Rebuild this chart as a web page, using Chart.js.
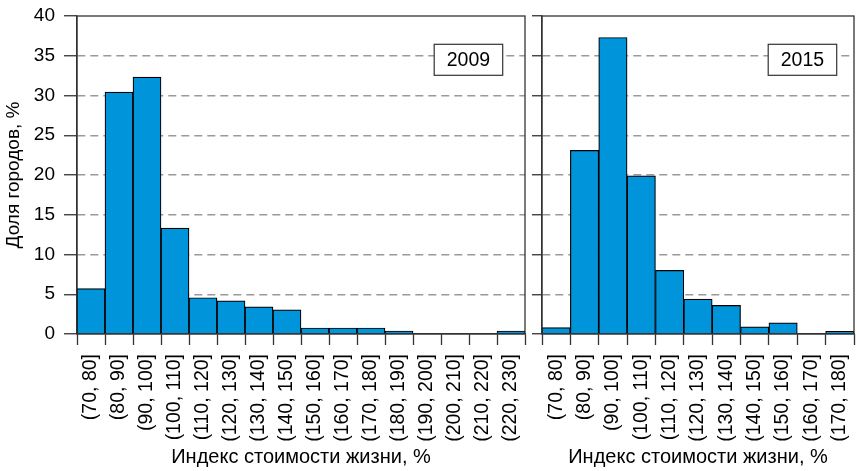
<!DOCTYPE html>
<html><head><meta charset="utf-8">
<script src="https://cdn.jsdelivr.net/npm/chart.js@4/dist/chart.umd.min.js"></script>
<style>
html,body{margin:0;padding:0;background:#fff;}
#wrap{position:relative;width:857px;height:471px;overflow:hidden;background:#fff;}
#c1{position:absolute;left:0;top:0;width:530px;height:471px;}
#c2{position:absolute;left:530px;top:0;width:327px;height:471px;}
</style></head><body>
<div id="wrap"><canvas id="c1" width="530" height="471"></canvas><canvas id="c2" width="327" height="471"></canvas></div>
<script>
const categories2009 = ['(70, 80]','(80, 90]','(90, 100]','(100, 110]','(110, 120]','(120, 130]','(130, 140]','(140, 150]','(150, 160]','(160, 170]','(170, 180]','(180, 190]','(190, 200]','(200, 210]','(210, 220]','(220, 230]'];
const values2009 = [5.70, 30.42, 32.32, 13.31, 4.56, 4.18, 3.42, 3.04, 0.76, 0.76, 0.76, 0.38, 0, 0, 0, 0.38];
const categories2015 = ['(70, 80]','(80, 90]','(90, 100]','(100, 110]','(110, 120]','(120, 130]','(130, 140]','(140, 150]','(150, 160]','(160, 170]','(170, 180]'];
const values2015 = [0.8, 23.1, 37.3, 19.9, 8.0, 4.4, 3.6, 0.9, 1.4, 0, 0.35];
const yMin = 0, yMax = 40, yStep = 5;
const yAxisTitle = 'Доля городов, %';
const xAxisTitle = 'Индекс стоимости жизни, %';
const panelLabels = ['2009', '2015'];

const FONT = "'Liberation Sans', Arial, sans-serif";
const DARK = '#333333';
const BAR = '#0095DA';

const framePlugin = {
  id: 'frame',
  afterDatasetsDraw(chart, args, opts) {
    const {ctx, chartArea: a} = chart;
    ctx.save();
    ctx.strokeStyle = DARK; ctx.lineWidth = 1.3;
    ctx.strokeRect(a.left, a.top, a.right - a.left, a.bottom - a.top);
    const w = opts.boxWidth, h = opts.boxHeight;
    const x = a.right - opts.boxRight - w, y = a.top + opts.boxTop;
    ctx.fillStyle = '#fff'; ctx.fillRect(x, y, w, h);
    ctx.lineWidth = 1.2; ctx.strokeRect(x, y, w, h);
    ctx.fillStyle = '#000'; ctx.font = '19.5px ' + FONT;
    ctx.textAlign = 'center'; ctx.textBaseline = 'middle';
    ctx.fillText(opts.text, x + w / 2, y + h / 2 + 1);
    ctx.restore();
  }
};

function makeChart(id, labels, values, opt) {
  return new Chart(document.getElementById(id), {
    type: 'bar',
    data: { labels: labels, datasets: [{ data: values, backgroundColor: BAR, borderColor: '#000', borderWidth: 1.2, barPercentage: 1, categoryPercentage: 1 }] },
    options: {
      responsive: false, animation: false,
      layout: { padding: { left: 0, right: opt.padRight, top: 16, bottom: 0 } },
      plugins: { legend: { display: false }, tooltip: { enabled: false },
        frame: { text: opt.text, boxWidth: 68.5, boxHeight: 31, boxRight: opt.boxRight, boxTop: 28.3 } },
      scales: {
        x: {
          grid: { drawOnChartArea: false, drawTicks: true, tickLength: 11, tickColor: DARK, tickWidth: 1.3 },
          border: { display: true, color: DARK, width: 1.3 },
          ticks: { autoSkip: false, maxRotation: 90, minRotation: 90, padding: 9, color: '#000', font: { family: FONT, size: 19.5 } },
          title: { display: true, text: xAxisTitle, color: '#000', font: { family: FONT, size: 20 }, padding: { top: 0, bottom: 2 } },
          afterFit(s) { s.height = 137; s.paddingLeft = 0; s.paddingRight = 0; }
        },
        y: {
          min: yMin, max: yMax,
          grid: { color: (c) => (c.tick && (c.tick.value === yMin || c.tick.value === yMax)) ? 'rgba(0,0,0,0)' : '#9a9a9a', lineWidth: 1.5, tickLength: opt.tickLen, tickColor: DARK, tickWidth: 1.3 },
          border: { display: true, color: DARK, width: 1.3, dash: [8, 5] },
          ticks: { display: opt.showY, stepSize: yStep, padding: 9, color: '#000', font: { family: FONT, size: 19 } },
          title: { display: opt.showY, text: yAxisTitle, color: '#000', font: { family: FONT, size: 19 }, padding: { top: 2, bottom: 0 } },
          afterFit(s) { s.width = opt.yWidth; s.paddingTop = 0; s.paddingBottom = 0; }
        }
      }
    },
    plugins: [framePlugin]
  });
}

makeChart('c1', categories2009, values2009, { padRight: 5, text: panelLabels[0], boxRight: 22.3, showY: true, yWidth: 77, tickLen: 13 });
makeChart('c2', categories2015, values2015, { padRight: 3, text: panelLabels[1], boxRight: 17.3, showY: false, yWidth: 12, tickLen: 10 });
</script>
</body></html>
